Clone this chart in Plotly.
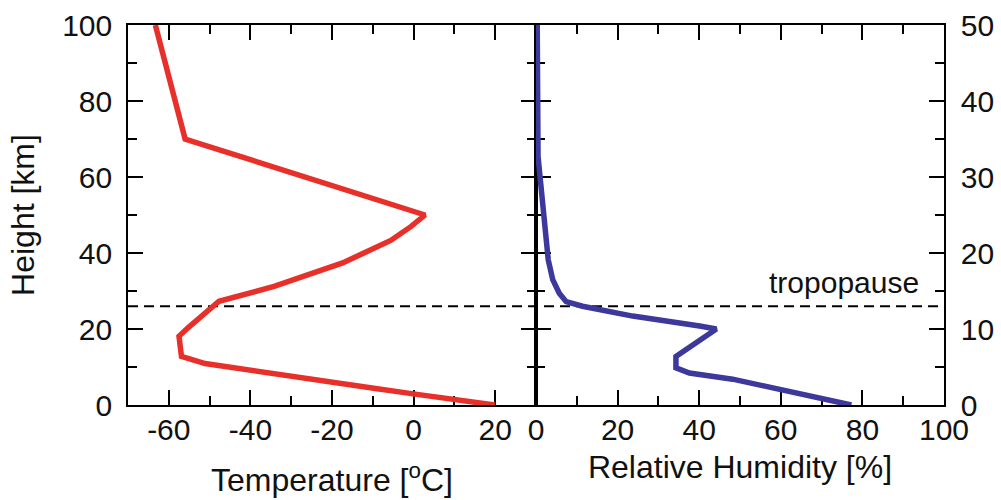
import plotly.graph_objects as go

# Temperature profile (left panel): height [km] on 0-100 axis
temp_c = [19.9, 7.9, -0.5, -8.9, -17.4, -25.8, -34.2, -42.6, -51.1, -56.9,
          -57.5, -55.3, -49.4, -47.7, -34.2, -17.4, -5.6, -0.6, 2.8,
          -16.5, -33.0, -56.0, -63.3]
temp_h = [0.0, 1.6, 3.0, 4.3, 5.6, 6.7, 8.0, 9.3, 10.9, 12.8,
          18.1, 20.3, 26.1, 27.3, 31.2, 37.4, 43.3, 47.0, 50.0,
          56.6, 61.9, 70.0, 100.0]

# Relative humidity profile (right panel): height on 0-50 axis
rh_pct = [77.3, 71.1, 64.6, 56.4, 48.2, 37.6, 34.3, 34.3, 40.0, 44.2,
          40.1, 23.7, 11.4, 7.4, 5.7, 4.1, 3.0, 2.4, 1.4, 1.0, 0.5, 0.3]
rh_h = [0.0, 0.7, 1.6, 2.5, 3.4, 4.2, 4.9, 6.4, 8.6, 10.0,
        10.4, 11.7, 13.0, 13.6, 14.7, 16.5, 19.1, 22.6, 26.6, 29.0, 32.7, 50.0]

tropopause_h = 26          # on the 0-100 axis
tropopause_label = "tropopause"

left_major = [-60, -40, -20, 0, 20]
left_major_text = ["-60", "-40", "-20", "0", "20"]
left_minor = [-50, -30, -10, 10]
rh_major = [0, 20, 40, 60, 80, 100]
rh_minor = [10, 30, 50, 70, 90]
h_major = [0, 20, 40, 60, 80, 100]
h_minor = [10, 30, 50, 70, 90]
h2_major = [0, 10, 20, 30, 40, 50]
h2_minor = [5, 15, 25, 35, 45]

FONT = "Liberation Sans, Arial, Helvetica, sans-serif"
TICKF = dict(family=FONT, size=30, color="#111")
TITLEF = dict(family=FONT, size=32, color="#111")

fig = go.Figure()
fig.add_trace(go.Scatter(x=temp_c, y=temp_h, mode="lines", xaxis="x", yaxis="y",
                         line=dict(color="#E8302A", width=5.5), showlegend=False))
fig.add_trace(go.Scatter(x=rh_pct, y=rh_h, mode="lines", xaxis="x2", yaxis="y2",
                         line=dict(color="#3C389C", width=5.5), showlegend=False))

common = dict(showline=True, linecolor="black", linewidth=1.6, mirror="ticks",
              ticks="inside", ticklen=15, tickwidth=1.6, tickcolor="black",
              showgrid=False, zeroline=False, tickfont=TICKF, automargin=False,
              layer="below traces")
minor = dict(ticks="inside", ticklen=9, tickwidth=1.6, tickcolor="black")

fig.update_layout(
    width=1001, height=500,
    margin=dict(l=128, r=57, t=25, b=95),
    plot_bgcolor="white", paper_bgcolor="white",
    xaxis=dict(domain=[0, 0.5], range=[-70, 30], tickvals=left_major, ticktext=left_major_text,
               minor=dict(tickvals=left_minor, **minor),
               anchor="y", ticklabelstandoff=-3,
               title=dict(text="Temperature [<sup>o</sup>C]", font=TITLEF, standoff=24), **common),
    yaxis=dict(domain=[0, 1], range=[0, 100], tickvals=h_major,
               minor=dict(tickvals=h_minor, **minor),
               anchor="x", ticklabelstandoff=8,
               title=dict(text="Height [km]", font=TITLEF, standoff=18), **common),
    xaxis2=dict(domain=[0.5, 1], range=[0, 100], tickvals=rh_major,
                minor=dict(tickvals=rh_minor, **minor),
                anchor="y2", ticklabelstandoff=-3,
                title=dict(text="Relative Humidity [%]", font=TITLEF, standoff=11), **common),
    yaxis2=dict(domain=[0, 1], range=[0, 50], tickvals=h2_major, side="right",
                minor=dict(tickvals=h2_minor, **minor),
                anchor="x2", ticklabelstandoff=9, **common),
)

fig.add_shape(type="line", xref="paper", yref="y", x0=0, x1=1, y0=tropopause_h, y1=tropopause_h,
              line=dict(color="black", width=2, dash="10px,6px"), layer="below")
fig.add_annotation(text=tropopause_label, xref="x2", yref="y2", x=75.5, y=tropopause_h / 2,
                   yanchor="bottom", xanchor="center", showarrow=False, yshift=5,
                   font=dict(family=FONT, size=30, color="#111"))

fig.write_html("out.html", post_script="document.body.style.margin='0';",
               config={"displayModeBar": False})
